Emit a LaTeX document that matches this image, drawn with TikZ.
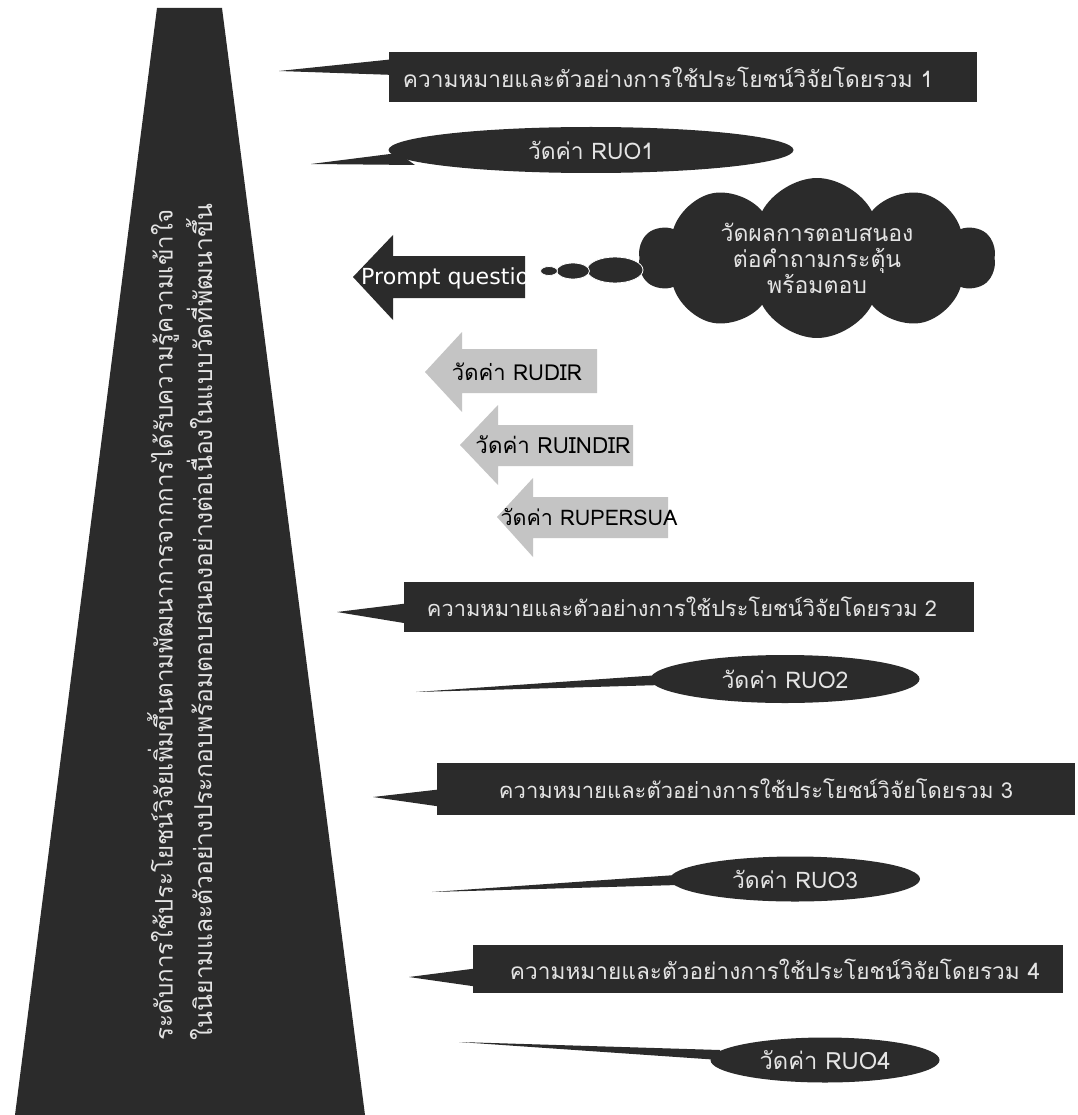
\documentclass[tikz,border=0pt]{standalone}
\usepackage{fontspec}
\usepackage{graphicx}
\newfontfamily\thai[Script=Thai]{Loma}
\newfontfamily\latsans{DejaVu Sans}
\usetikzlibrary{shapes.symbols,shapes.geometric}
\definecolor{dk}{HTML}{2B2B2B}
\definecolor{lt}{HTML}{E4E4E4}
\definecolor{gy}{HTML}{C4C4C4}
\newcommand\fitto[2]{\resizebox{#1pt}{!}{#2}}
\begin{document}
\begin{tikzpicture}[x=1pt,y=-1pt,
  darkbox/.style={rectangle,fill=dk,draw=none,inner sep=0pt},
  boxtext/.style={text=lt,inner sep=0pt,font=\thai},
  darkell/.style={ellipse,fill=dk,draw=none,inner sep=0pt,text=lt,font=\thai},
  tailfill/.style={fill=dk,draw=none},
  grayarrow/.style={fill=gy,draw=none},
  graytext/.style={text=black,inner sep=0pt,font=\thai},
  bubble/.style={ellipse,fill=dk,draw=white,line width=0.8pt,inner sep=0pt}]
\useasboundingbox (0,0) rectangle (1077,1115);
\fill[white] (0,0) rectangle (1077,1115);

% trapezoid
\fill[dk] (157,8) -- (222,8) -- (365,1115) -- (15,1115) -- cycle;
\node[rotate=90,text=lt,inner sep=0pt,font=\thai] (v1) at (163,625)
  {\fitto{830}{ระดับการใช้ประโยชน์วิจัยเพิ่มขึ้นตามพัฒนาการจากการได้รับความรู้ความเข้าใจ}};
\node[rotate=90,text=lt,inner sep=0pt,font=\thai] (v2) at (199,622)
  {\fitto{836}{ในนิยามและตัวอย่างประกอบพร้อมตอบสนองอย่างต่อเนื่องในแบบวัดที่พัฒนาขึ้น}};

% box 1
\fill[tailfill] (279,71) -- (395,59) -- (395,75) -- cycle;
\node[darkbox,minimum width=588pt,minimum height=50pt] (b1) at (683,77) {};
\node[boxtext] (t1) at (668,77) {\fitto{530}{ความหมายและตัวอย่างการใช้ประโยชน์วิจัยโดยรวม 1}};

% ellipse 1
\fill[tailfill] (311,164) -- (398,153) -- (415,165) -- cycle;
\node[darkell,minimum width=405pt,minimum height=46pt] (e1) at (591,150) {\fitto{126}{วัดค่า RUO1}};

% cloud and prompt
\node[cloud,cloud puffs=10,cloud puff arc=125,cloud ignores aspect,fill=dk,draw=none,
  minimum width=356pt,minimum height=160pt,inner sep=0pt,text=lt,font=\thai\fontsize{23}{26}\selectfont,align=center]
  (cl) at (817,258) {วัดผลการตอบสนอง\\ต่อคำถามกระตุ้น\\พร้อมตอบ};
\node[bubble,minimum width=56pt,minimum height=26pt] (bu3) at (615,270) {};
\node[bubble,minimum width=33pt,minimum height=16pt] (bu2) at (573,271) {};
\node[bubble,minimum width=17pt,minimum height=9pt] (bu1) at (549,271) {};

\fill[dk] (353,277) -- (393,235) -- (393,256) -- (525,256) -- (525,298) -- (393,298) -- (393,320) -- cycle;
\node[anchor=west,text=white,inner sep=0pt,font=\latsans] (pq) at (361,278) {\fitto{182}{Prompt question}};

% gray arrows
\fill[grayarrow] (425,372) -- (462,332) -- (462,349) -- (597,349) -- (597,393) -- (462,393) -- (462,412) -- cycle;
\node[graytext] (g1) at (517,372) {\fitto{130}{วัดค่า RUDIR}};
\fill[grayarrow] (460,445) -- (498,405) -- (498,425) -- (633,425) -- (633,466) -- (498,466) -- (498,485) -- cycle;
\node[graytext] (g2) at (553,445) {\fitto{155}{วัดค่า RUINDIR}};
\fill[grayarrow] (497,517) -- (533,478) -- (533,497) -- (668,497) -- (668,538) -- (533,538) -- (533,557) -- cycle;
\node[graytext] (g3) at (589,517) {\fitto{177}{วัดค่า RUPERSUA}};

% box 2
\fill[tailfill] (337,612) -- (410,603) -- (410,624) -- cycle;
\node[darkbox,minimum width=570pt,minimum height=50pt] (b2) at (689,607) {};
\node[boxtext] (t2) at (682,607) {\fitto{510}{ความหมายและตัวอย่างการใช้ประโยชน์วิจัยโดยรวม 2}};

% ellipse 2
\fill[tailfill] (416,692) -- (660,675) -- (662,685) -- cycle;
\node[darkell,minimum width=269pt,minimum height=48pt] (e2) at (785,679) {\fitto{127}{วัดค่า RUO2}};

% box 3
\fill[tailfill] (373,797) -- (443,789) -- (443,807) -- cycle;
\node[darkbox,minimum width=638pt,minimum height=52pt] (b3) at (756,789) {};
\node[boxtext] (t3) at (756,789) {\fitto{514}{ความหมายและตัวอย่างการใช้ประโยชน์วิจัยโดยรวม 3}};

% ellipse 3
\fill[tailfill] (432,892) -- (676,875) -- (678,885) -- cycle;
\node[darkell,minimum width=250pt,minimum height=45pt] (e3) at (795,879) {\fitto{126}{วัดค่า RUO3}};

% box 4
\fill[tailfill] (409,977) -- (479,968) -- (479,987) -- cycle;
\node[darkbox,minimum width=590pt,minimum height=48pt] (b4) at (768,969) {};
\node[boxtext] (t4) at (775,969) {\fitto{530}{ความหมายและตัวอย่างการใช้ประโยชน์วิจัยโดยรวม 4}};

% ellipse 4
\fill[tailfill] (459,1042) -- (720,1050) -- (720,1060) -- cycle;
\node[darkell,minimum width=229pt,minimum height=45pt] (e4) at (825,1060) {\fitto{131}{วัดค่า RUO4}};
\end{tikzpicture}
\end{document}
